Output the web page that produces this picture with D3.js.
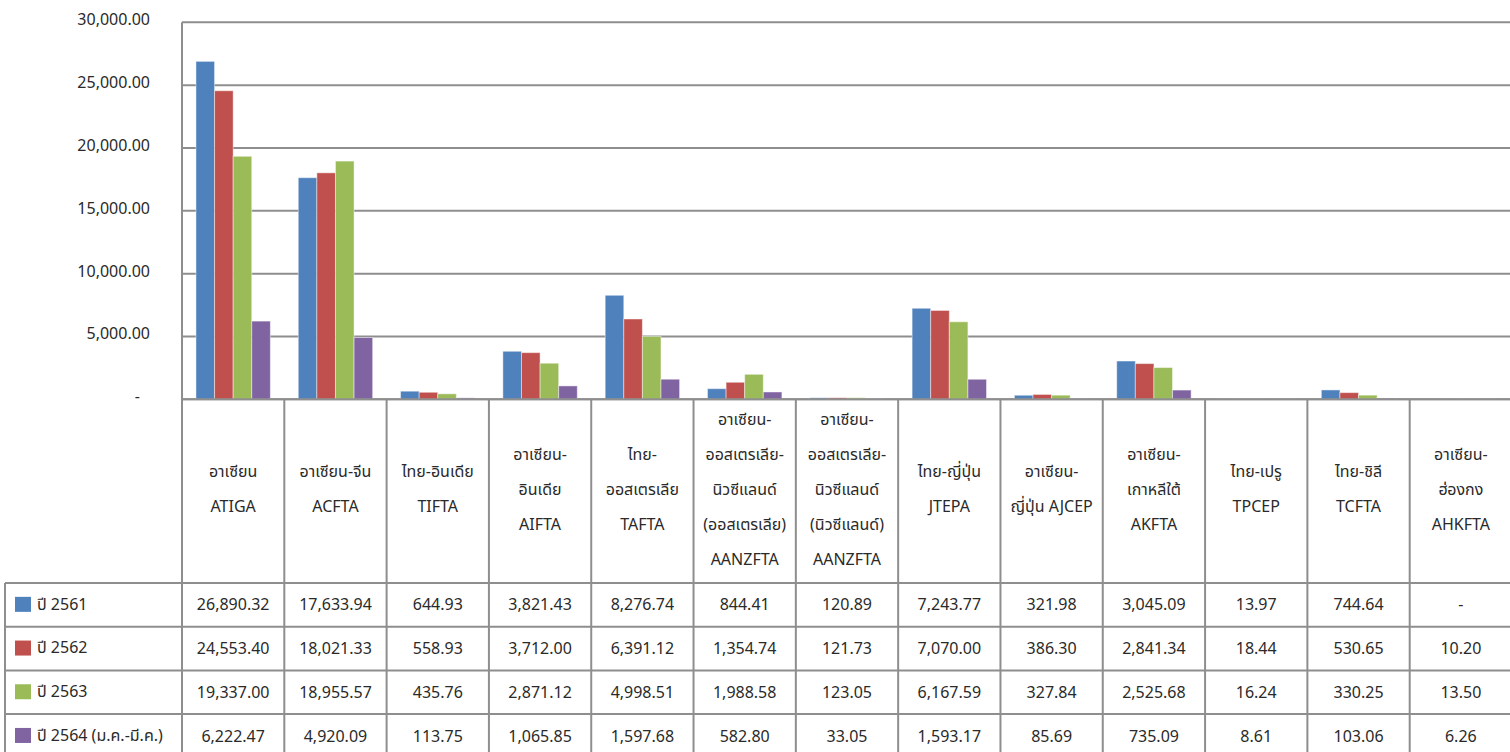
<!DOCTYPE html>
<html>
<head>
<meta charset="utf-8">
<script src="https://cdn.jsdelivr.net/npm/d3@7"></script>
<style>
  body { margin: 0; background: #fff; }
  svg { display: block; font-family: Tahoma, "Noto Sans Thai", "Noto Sans", "DejaVu Sans", sans-serif; }
  .lbl { font-size: 16px; fill: #2a2a2a; }
</style>
</head>
<body>
<div id="chart"></div>
<script>
const width = 1510,
      height = 752;

// categories, one array of text lines per column
const categories = [
  ["อาเซียน", "ATIGA"],
  ["อาเซียน-จีน", "ACFTA"],
  ["ไทย-อินเดีย", "TIFTA"],
  ["อาเซียน-", "อินเดีย", "AIFTA"],
  ["ไทย-", "ออสเตรเลีย", "TAFTA"],
  ["อาเซียน-", "ออสเตรเลีย-", "นิวซีแลนด์", "(ออสเตรเลีย)", "AANZFTA"],
  ["อาเซียน-", "ออสเตรเลีย-", "นิวซีแลนด์", "(นิวซีแลนด์)", "AANZFTA"],
  ["ไทย-ญี่ปุ่น", "JTEPA"],
  ["อาเซียน-", "ญี่ปุ่น AJCEP"],
  ["อาเซียน-", "เกาหลีใต้", "AKFTA"],
  ["ไทย-เปรู", "TPCEP"],
  ["ไทย-ชิลี", "TCFTA"],
  ["อาเซียน-", "ฮ่องกง", "AHKFTA"]
];
const seriesNames = ["ปี 2561", "ปี 2562", "ปี 2563", "ปี 2564 (ม.ค.-มี.ค.)"];
const seriesColors = ["#4F81BD", "#C0504D", "#9BBB59", "#8064A2"];

const y2561 = [26890.32, 17633.94, 644.93, 3821.43, 8276.74, 844.41, 120.89, 7243.77, 321.98, 3045.09, 13.97, 744.64, null];
const y2562 = [24553.40, 18021.33, 558.93, 3712.00, 6391.12, 1354.74, 121.73, 7070.00, 386.30, 2841.34, 18.44, 530.65, 10.20];
const y2563 = [19337.00, 18955.57, 435.76, 2871.12, 4998.51, 1988.58, 123.05, 6167.59, 327.84, 2525.68, 16.24, 330.25, 13.50];
const y2564 = [6222.47, 4920.09, 113.75, 1065.85, 1597.68, 582.80, 33.05, 1593.17, 85.69, 735.09, 8.61, 103.06, 6.26];
const seriesValues = [y2561, y2562, y2563, y2564];

const yTicks = [0, 5000, 10000, 15000, 20000, 25000, 30000];

// layout
const plotLeft = 182, plotRight = 1512, plotTop = 22.3, plotBottom = 399.3;
const headBottom = 583, rowH = 43.7, tableLeft = 5;
const gridColor = "#8e8e8e";

const svg = d3.select("#chart").append("svg")
  .attr("width", width)
  .attr("height", height);

const x0 = d3.scaleBand()
  .domain(d3.range(categories.length))
  .range([plotLeft, plotRight])
  .padding(0);

const x1 = d3.scaleBand()
  .domain(d3.range(seriesNames.length))
  .range([0, x0.bandwidth()])
  .paddingInner(0)
  .paddingOuter(0.75);

const y = d3.scaleLinear()
  .domain([0, 30000])
  .range([plotBottom, plotTop]);

const rowY = d3.scaleBand()
  .domain(d3.range(seriesNames.length))
  .range([headBottom, headBottom + rowH * seriesNames.length]);

const fmt = d3.format(",.2f");
const fmtVal = v => v == null ? "-" : fmt(v);

// gridlines
svg.append("g").selectAll("line").data(yTicks)
  .enter().append("line")
  .attr("x1", plotLeft).attr("x2", plotRight)
  .attr("y1", d => y(d)).attr("y2", d => y(d))
  .style("stroke", gridColor)
  .style("stroke-width", 2);

// y axis labels
const yAxis = d3.axisLeft(y)
  .tickValues(yTicks)
  .tickSize(0)
  .tickPadding(0)
  .tickFormat(d => d === 0 ? "-" : fmt(d));

const yAxisG = svg.append("g")
  .attr("transform", `translate(${plotLeft - 32},0)`)
  .call(yAxis);
yAxisG.select(".domain").remove();
yAxisG.selectAll("text")
  .attr("class", "lbl")
  .attr("dy", "0.15em")
  .attr("x", d => d === 0 ? -10 : 0);
yAxisG.attr("font-family", null).attr("font-size", null);

// bars
const groups = svg.append("g").selectAll("g")
  .data(categories)
  .enter().append("g")
  .attr("transform", (d, i) => `translate(${x0(i)},0)`);

groups.selectAll("rect")
  .data((d, i) => seriesValues.map((s, k) => ({ k: k, v: s[i] })))
  .enter().append("rect")
  .filter(d => d.v != null)
  .attr("x", d => x1(d.k))
  .attr("width", x1.bandwidth())
  .attr("y", d => y(d.v))
  .attr("height", d => plotBottom - y(d.v))
  .style("fill", d => seriesColors[d.k])
  .style("stroke", "rgba(255,255,255,0.45)")
  .style("stroke-width", 1);

// zero line over bars
svg.append("line")
  .attr("x1", plotLeft).attr("x2", plotRight)
  .attr("y1", plotBottom).attr("y2", plotBottom)
  .style("stroke", gridColor).style("stroke-width", 2);

// data table lines
const tableG = svg.append("g");
const tableBottom = headBottom + rowH * seriesNames.length;

tableG.selectAll("line.vert")
  .data(d3.range(categories.length + 1))
  .enter().append("line")
  .attr("class", "vert")
  .attr("x1", i => i < categories.length ? x0(i) : plotRight)
  .attr("x2", i => i < categories.length ? x0(i) : plotRight)
  .attr("y1", i => i === 0 ? plotTop : plotBottom)
  .attr("y2", tableBottom)
  .style("stroke", gridColor).style("stroke-width", 2);

tableG.append("line")
  .attr("x1", tableLeft).attr("x2", tableLeft)
  .attr("y1", headBottom).attr("y2", tableBottom)
  .style("stroke", gridColor).style("stroke-width", 2);

tableG.selectAll("line.hor")
  .data(d3.range(seriesNames.length + 1))
  .enter().append("line")
  .attr("class", "hor")
  .attr("x1", tableLeft).attr("x2", plotRight)
  .attr("y1", i => headBottom + i * rowH)
  .attr("y2", i => headBottom + i * rowH)
  .style("stroke", gridColor).style("stroke-width", 2);

// category labels
const headMid = (plotBottom + headBottom) / 2;
const lineH = 35;
svg.append("g").selectAll("text")
  .data(categories)
  .enter().append("text")
  .attr("class", "lbl")
  .attr("text-anchor", "middle")
  .each(function(lines, i) {
    const t = d3.select(this);
    const start = headMid - 2 - (lines.length - 1) * lineH / 2;
    lines.forEach((ln, j) => {
      t.append("tspan")
        .attr("x", x0(i) + x0.bandwidth() / 2)
        .attr("y", start + j * lineH)
        .attr("dy", "0.35em")
        .text(ln);
    });
  });

// legend keys
const legend = svg.append("g").selectAll("g")
  .data(seriesNames)
  .enter().append("g")
  .attr("transform", (d, k) => `translate(0,${rowY(k) + rowY.bandwidth() / 2})`);

legend.append("rect")
  .attr("x", 15).attr("y", -8)
  .attr("width", 16).attr("height", 15)
  .style("fill", (d, k) => seriesColors[k]);

legend.append("text")
  .attr("class", "lbl")
  .attr("x", 37)
  .attr("dy", "0.3em")
  .text(d => d);

// table values
seriesValues.forEach((vals, k) => {
  svg.append("g").selectAll("text")
    .data(vals)
    .enter().append("text")
    .attr("class", "lbl")
    .attr("text-anchor", "middle")
    .attr("x", (d, i) => x0(i) + x0.bandwidth() / 2)
    .attr("y", rowY(k) + rowY.bandwidth() / 2)
    .attr("dy", "0.35em")
    .text(d => fmtVal(d));
});
</script>
</body>
</html>
